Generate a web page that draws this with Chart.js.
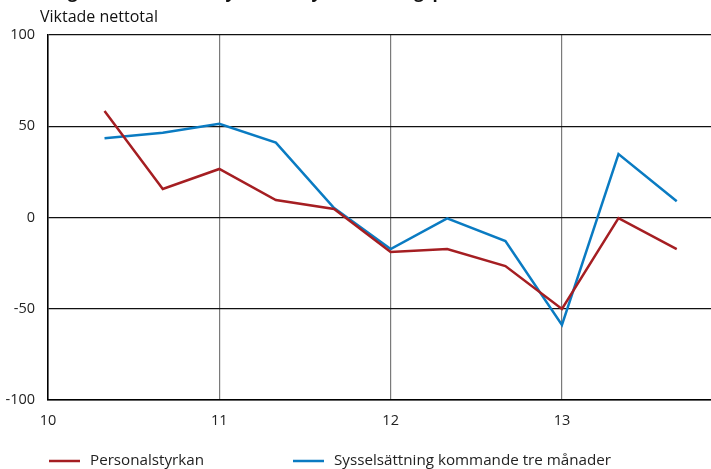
<!DOCTYPE html>
<html>
<head>
<meta charset="utf-8">
<script src="https://cdn.jsdelivr.net/npm/chart.js@4/dist/chart.umd.min.js"></script>
<style>
  html, body { margin: 0; padding: 0; background: #fff; overflow: hidden; }
  #wrap { width: 711px; height: 469px; position: relative; }
</style>
</head>
<body>
<div id="wrap"><canvas id="c" width="711" height="469"></canvas></div>
<script>
// Survey periods (year fractions, three surveys per year)
const periods = [10.33, 10.67, 11, 11.33, 11.67, 12, 12.33, 12.67, 13, 13.33, 13.67];
// Weighted net balances
const personalstyrkan = [58.4, 15.6, 26.6, 9.6, 4.7, -18.9, -17.3, -26.6, -50.1, -0.3, -17.3];
const sysselsattning = [43.4, 46.5, 51.4, 41.0, 5.2, -17.3, -0.5, -12.9, -58.9, 34.8, 8.9];
const xTicks = [10, 11, 12, 13];
const yTicks = [-100, -50, 0, 50, 100];

const titleText = 'Diagram 4. Personalstyrka och sysselsättningsplaner';
const unitText = 'Viktade nettotal';
const seriesNames = ['Personalstyrkan', 'Sysselsättning kommande tre månader'];
const seriesColors = ['#a51e22', '#0a7bc2'];

const FONT = '"Open Sans", "Noto Sans", sans-serif';

const headerPlugin = {
  id: 'header',
  afterDraw(chart) {
    const ctx = chart.ctx;
    ctx.save();
    ctx.fillStyle = '#111';
    ctx.textAlign = 'left';
    ctx.textBaseline = 'alphabetic';
    ctx.font = 'bold 17px ' + FONT;
    ctx.fillText(titleText, 40, -2);
    ctx.font = '16px ' + FONT;
    ctx.textBaseline = 'middle';
    ctx.fillText(unitText, 40, 17);
    ctx.restore();
  }
};

const legendPlugin = {
  id: 'customLegend',
  afterDraw(chart) {
    const ctx = chart.ctx;
    const xs = [49, 293];
    const y = 461;
    ctx.save();
    ctx.font = '15.2px ' + FONT;
    ctx.textBaseline = 'middle';
    ctx.textAlign = 'left';
    chart.data.datasets.forEach((ds, i) => {
      ctx.strokeStyle = ds.borderColor;
      ctx.lineWidth = 2.5;
      ctx.beginPath();
      ctx.moveTo(xs[i], y);
      ctx.lineTo(xs[i] + 31, y);
      ctx.stroke();
      ctx.fillStyle = '#222';
      ctx.fillText(ds.label, xs[i] + 41, y);
    });
    ctx.restore();
  }
};

new Chart(document.getElementById('c'), {
  type: 'line',
  data: {
    datasets: [
      {
        label: seriesNames[0],
        data: periods.map((p, i) => ({ x: p, y: personalstyrkan[i] })),
        borderColor: seriesColors[0],
        borderWidth: 2.5,
        pointRadius: 0,
        tension: 0
      },
      {
        label: seriesNames[1],
        data: periods.map((p, i) => ({ x: p, y: sysselsattning[i] })),
        borderColor: seriesColors[1],
        borderWidth: 2.5,
        pointRadius: 0,
        tension: 0
      }
    ]
  },
  options: {
    responsive: false,
    animation: false,
    layout: { padding: { top: 35, left: 0, right: 0, bottom: 0 } },
    plugins: {
      legend: { display: false },
      tooltip: { enabled: false }
    },
    scales: {
      x: {
        type: 'linear',
        min: 10,
        max: 13.87,
        afterBuildTicks(axis) { axis.ticks = xTicks.map(v => ({ value: v })); },
        afterFit(axis) { axis.height = 69; },
        grid: {
          color: ctx => ctx.tick && ctx.tick.value === 10 ? '#000' : '#7a7a7a',
          lineWidth: 1.2,
          drawTicks: false
        },
        border: { color: '#000', width: 1.5 },
        ticks: {
          color: '#222',
          font: { family: FONT, size: 14.5 },
          padding: 12,
          maxRotation: 0,
          callback: v => String(v)
        }
      },
      y: {
        min: -100,
        max: 100,
        afterBuildTicks(axis) { axis.ticks = yTicks.map(v => ({ value: v })); },
        afterFit(axis) { axis.width = 48; },
        grid: {
          color: '#111',
          lineWidth: 1.2,
          drawTicks: false
        },
        border: { color: '#000', width: 1.5 },
        ticks: {
          color: '#222',
          font: { family: FONT, size: 14.5 },
          padding: 13,
          callback: v => String(v)
        }
      }
    }
  },
  plugins: [headerPlugin, legendPlugin]
});
</script>
</body>
</html>
